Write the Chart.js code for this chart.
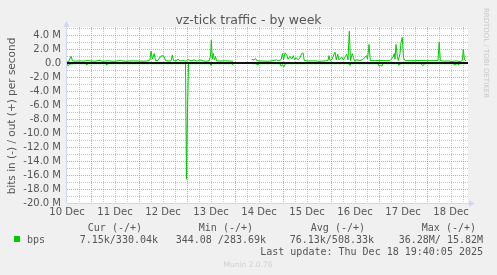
<!DOCTYPE html>
<html>
<head>
<meta charset="utf-8">
<script src="https://cdn.jsdelivr.net/npm/chart.js@4/dist/chart.umd.min.js"></script>
<style>
  html, body { margin: 0; padding: 0; background: #f0f0f0; }
</style>
</head>
<body>
<canvas id="grafico_bps" width="497" height="275"></canvas>
<script>
// hours since 10 Dec 00:00, values in Mbit/s
const dayLabels = ['10 Dec', '11 Dec', '12 Dec', '13 Dec', '14 Dec', '15 Dec', '16 Dec', '17 Dec', '18 Dec'];
const yTicks = [-20, -19, -18, -17, -16, -15, -14, -13, -12, -11, -10, -9, -8, -7, -6, -5, -4, -3, -2, -1, 0, 1, 2, 3, 4, 5];

const outHours = [
  12, 12.75, 14, 14.75, 16.5, 18.5, 20.5, 22.5, 23.5, 26,
  28.5, 29.5, 32.5, 35.5, 38.5, 41.5, 44.5, 47.5, 50.5, 52.5,
  53.5, 54, 54.75, 55.6, 56.25, 57.5, 58.5, 59.5, 60.5, 61.25,
  62.5, 64, 64.65, 65.25, 66.5, 67.5, 68.5, 70, 71.5, 72.5,
  74, 75.5, 77, 78.5, 80, 81.5, 83, 83.75, 84.15, 84.65,
  85.15, 85.65, 86.25, 86.75, 88.5, 91, 93.5, 95, 96, 104.35,
  105.5, 106.25, 107, 109.5, 112.5, 114.5, 116.85, 117.5, 119, 119.75,
  120.25, 121, 121.85, 122.5, 123.5, 124.35, 125.15, 125.75, 126.5, 127.65,
  128.5, 129.35, 130, 130.65, 132.5, 135.5, 138.5, 141.5, 142.5, 143,
  143.5, 144.5, 146, 146.65, 147.35, 148, 149.35, 150.15, 151, 151.85,
  152.5, 153.15, 153.75, 154.65, 155.25, 155.75, 157, 158.5, 160, 161,
  161.75, 162.25, 163, 163.65, 166, 168.5, 170.5, 173.5, 175, 175.65,
  176, 176.5, 177.15, 177.65, 178.5, 179, 179.65, 180.25, 181, 184.5,
  187.5, 191, 194.5, 197.5, 198.1, 198.65, 200.5, 202.5, 204.5, 206.5,
  208.5, 209.65, 210.15, 210.75, 211.5
];
const outValues = [
  0.25, 0.2, 1.0, 0.35, 0.3, 0.35, 0.3, 0.45, 0.35, 0.3,
  0.45, 0.3, 0.35, 0.3, 0.38, 0.3, 0.35, 0.33, 0.3, 0.35,
  0.5, 1.75, 0.6, 1.4, 0.4, 0.4, 0.9, 1.1, 1.0, 0.4,
  0.33, 0.35, 1.2, 0.4, 0.35, 0.6, 0.35, 0.4, 0.3, 0.55,
  0.35, 0.5, 0.3, 0.5, 0.35, 0.3, 0.35, 1.0, 3.3, 0.6,
  1.4, 0.5, 1.0, 0.35, 0.33, 0.35, 0.33, 0.3, null, 0.55,
  0.5, 0.7, 0.35, 0.33, 0.3, 0.35, 0.5, 0.35, 0.5, 1.4,
  0.5, 1.5, 1.2, 0.6, 1.0, 0.6, 1.1, 0.5, 0.8, 0.5,
  0.8, 1.4, 1.5, 0.4, 0.33, 0.35, 0.3, 0.35, 0.4, 1.1,
  0.4, 0.6, 1.6, 0.5, 1.3, 0.5, 0.9, 0.5, 0.9, 1.3,
  0.5, 4.6, 0.4, 1.4, 0.8, 0.35, 0.5, 0.4, 0.55, 0.9,
  1.1, 0.6, 2.7, 0.4, 0.38, 0.4, 0.38, 0.38, 0.9, 1.4,
  0.6, 2.7, 1.0, 0.4, 1.4, 3.0, 3.7, 0.8, 0.38, 0.38,
  0.4, 0.38, 0.38, 0.4, 3.0, 0.4, 0.3, 0.35, 0.25, 0.35,
  0.25, 0.4, 2.0, 0.5, 0.35
];

const inHours = [
  12, 12.65, 13.25, 16, 21.5, 21.85, 22.25, 31.5, 31.85, 32.25,
  71.25, 71.75, 72.25, 72.75, 83.5, 84, 84.5, 94.5, 95.15, 96,
  104.35, 106.5, 107.5, 108, 118.5, 119, 119.75, 120.5, 121.25, 152.75,
  153.5, 154, 167.5, 168, 168.75, 169.35, 170, 177.5, 178, 178.75,
  189, 189.75, 190.5, 191, 205, 205.5, 206.5, 207, 208, 208.5,
  211.5
];
const inValues = [
  0.1, 0.4, 0.1, 0.05, 0.05, 0.25, 0.05, 0.05, 0.25, 0.05,
  0.05, 16.6, 7.0, 0.05, 0.05, 0.3, 0.05, 0.05, 0.3, null,
  0.05, 0.05, 0.25, 0.05, 0.05, 0.4, 0.2, 0.5, 0.05, 0.05,
  0.3, 0.05, 0.05, 0.4, 0.3, 0.4, 0.05, 0.05, 0.3, 0.05,
  0.05, 0.3, 0.2, 0.05, 0.05, 0.2, 0.2, 0.05, 0.2, 0.05,
  0.05
];

const xTicks = [];
for (let h = 12; h <= 210; h += 6) xTicks.push(h);

const vermelho = 'rgba(225, 120, 120, 0.75)';
const cinza = 'rgba(150, 150, 150, 0.55)';
const fonte = '#555555';

const munin = {
  id: 'munin',
  beforeDraw(chart) {
    const c = chart.ctx, a = chart.chartArea;
    c.save();
    c.fillStyle = '#f0f0f0';
    c.fillRect(0, 0, chart.width, chart.height);
    c.fillStyle = '#ffffff';
    c.fillRect(a.left, a.top, a.right - a.left, a.bottom - a.top);
    c.restore();
  },
  afterDatasetsDraw(chart) {
    const c = chart.ctx, a = chart.chartArea;
    const y0 = Math.round(chart.scales.y.getPixelForValue(0));
    c.save();
    // zero rule
    c.fillStyle = '#111111';
    c.fillRect(a.left, y0 - 1, a.right - a.left, 2);
    // axes + arrows
    c.strokeStyle = '#CFD6F8';
    c.fillStyle = '#CFD6F8';
    c.lineWidth = 1;
    c.beginPath();
    c.moveTo(a.left - 0.5, a.bottom);
    c.lineTo(a.left - 0.5, a.top - 3);
    c.moveTo(a.left, a.bottom + 0.5);
    c.lineTo(a.right + 2, a.bottom + 0.5);
    c.stroke();
    c.beginPath();
    c.moveTo(a.left - 0.5, a.top - 6);
    c.lineTo(a.left - 3.5, a.top);
    c.lineTo(a.left + 2.5, a.top);
    c.fill();
    c.beginPath();
    c.moveTo(a.right + 7, a.bottom + 0.5);
    c.lineTo(a.right + 1, a.bottom - 2.5);
    c.lineTo(a.right + 1, a.bottom + 3.5);
    c.fill();
    c.restore();
  },
  afterDraw(chart) {
    const c = chart.ctx;
    c.save();
    c.fillStyle = fonte;
    c.textBaseline = 'alphabetic';
    c.textAlign = 'center';
    c.font = '12.5px "DejaVu Sans"';
    c.fillText('vz-tick traffic - by week', 248.5, 24);

    c.save();
    c.translate(15, 116);
    c.rotate(-Math.PI / 2);
    c.font = '10.5px "DejaVu Sans"';
    c.fillText('bits in (-) / out (+) per second', 0, 0);
    c.restore();

    c.save();
    c.translate(484, 53);
    c.rotate(Math.PI / 2);
    c.fillStyle = '#c8c8c8';
    c.font = '7px "DejaVu Sans"';
    c.fillText('RRDTOOL / TOBI OETIKER', 0, 0);
    c.restore();

    c.font = '10px "DejaVu Sans Mono"';
    c.textAlign = 'right';
    c.fillText('Cur (-/+)', 142, 231);
    c.fillText('Min (-/+)', 253, 231);
    c.fillText('Avg (-/+)', 365, 231);
    c.fillText('Max (-/+)', 476, 231);
    c.fillText('7.15k/330.04k', 158, 243);
    c.fillText('344.08 /283.69k', 266, 243);
    c.fillText('76.13k/508.33k', 374, 243);
    c.fillText('36.28M/ 15.82M', 483, 243);
    c.fillText('Last update: Thu Dec 18 19:40:05 2025', 483, 255);
    c.textAlign = 'left';
    c.fillText('bps', 27, 243);
    c.fillStyle = '#00cc00';
    c.fillRect(14, 236, 6, 6);

    c.textAlign = 'center';
    c.fillStyle = '#cfcfcf';
    c.font = '7.5px "DejaVu Sans"';
    c.fillText('Munin 2.0.76', 248, 267);
    c.restore();
  }
};

const grafico = document.getElementById('grafico_bps');

new Chart(grafico, {
  type: 'line',
  data: {
    datasets: [{
      label: 'bps out',
      data: outHours.map((h, i) => ({ x: h, y: outValues[i] })),
      borderColor: '#00cc00',
      borderWidth: 1,
      pointRadius: 0,
      tension: 0,
      spanGaps: false
    }, {
      label: 'bps in',
      data: inHours.map((h, i) => ({ x: h, y: inValues[i] === null ? null : -inValues[i] })),
      borderColor: '#00cc00',
      borderWidth: 1,
      pointRadius: 0,
      tension: 0,
      spanGaps: false
    }]
  },
  options: {
    responsive: false,
    animation: false,
    events: [],
    layout: { padding: { top: 27, right: 29, left: 0, bottom: 0 } },
    plugins: {
      legend: { display: false },
      title: { display: false },
      tooltip: { enabled: false }
    },
    scales: {
      x: {
        type: 'linear',
        min: 12,
        max: 212.5,
        afterBuildTicks: s => { s.ticks = xTicks.map(v => ({ value: v })); },
        afterFit: s => { s.height = 72; },
        ticks: {
          autoSkip: false,
          maxRotation: 0,
          padding: 3,
          color: fonte,
          font: { family: 'DejaVu Sans', size: 10 },
          callback: v => (v % 24 === 12) ? dayLabels[(v - 12) / 24] : ''
        },
        grid: {
          drawTicks: false,
          color: ctx => {
            const v = ctx.tick.value;
            if (v === 12) return 'rgba(0,0,0,0)';
            return v % 24 === 0 ? vermelho : cinza;
          }
        },
        border: { display: false, dash: [1, 1] }
      },
      y: {
        min: -20,
        max: 5.2,
        afterBuildTicks: s => { s.ticks = yTicks.map(v => ({ value: v })); },
        afterFit: s => { s.width = 67; },
        ticks: {
          autoSkip: false,
          padding: 6,
          color: fonte,
          font: { family: 'DejaVu Sans', size: 10 },
          callback: v => (v % 2 !== 0) ? '' : (v === 0 ? '0.0' : v.toFixed(1) + ' M')
        },
        grid: {
          drawTicks: false,
          color: ctx => (ctx.tick.value % 2 === 0) ? vermelho : cinza
        },
        border: { display: false, dash: [1, 1] }
      }
    }
  },
  plugins: [munin]
});
</script>
</body>
</html>
